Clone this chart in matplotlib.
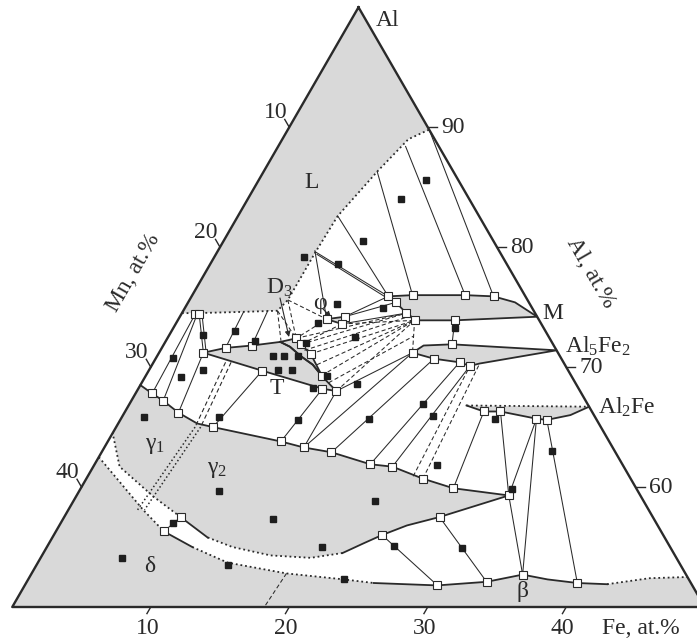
import numpy as np
import matplotlib.pyplot as plt

plt.rcParams['font.family'] = ['Liberation Serif', 'DejaVu Serif']
plt.rcParams['mathtext.fontset'] = 'custom'
plt.rcParams['mathtext.rm'] = 'Liberation Serif'
plt.rcParams['mathtext.it'] = 'Liberation Serif:italic'

# all compositions are (Fe, Al) in at.%, Mn is the balance

# --- single phase fields ---
l_boundary = [(0, 74.5), (1.0, 74.5), (4.2, 74.6), (6.8, 74.7), (7.1, 75.6), (7.1, 77.3),
              (7.1, 79.6), (7.2, 82.6), (8.2, 86.3), (9.1, 89.0), (10.2, 89.8)]
m_field = [(14.2, 75.9), (15.9, 76.0), (19.7, 76.0), (21.8, 75.9), (23.6, 75.4), (25.8, 74.2),
           (20.0, 73.9), (17.1, 73.9), (16.2, 74.5), (15.0, 75.4), (14.2, 75.9)]
al5fe2_field = [(18.3, 71.2), (18.8, 71.8), (20.8, 71.9), (28.6, 71.4), (23.6, 70.3),
                (23.0, 70.1), (22.1, 70.4), (20.1, 70.7), (18.3, 71.2)]
al2fe_top = [(24.4, 66.8), (33.3, 66.7)]
al2fe_bottom = [(33.3, 66.7), (32.3, 66.0), (30.8, 65.6), (30.0, 65.7), (27.1, 66.3),
                (25.9, 66.3), (24.4, 66.8)]
t_field = [(3.2, 71.2), (4.6, 71.6), (6.4, 71.8), (8.3, 72.1), (9.2, 71.7), (10.4, 70.9),
           (11.6, 70.2), (12.8, 69.2), (14.4, 68.0), (13.3, 68.2), (8.2, 69.7), (3.2, 71.2)]
d3_field = [(8.3, 72.1), (9.3, 72.4), (9.9, 71.9), (11.0, 71.1), (12.7, 69.3), (12.8, 69.2),
            (11.6, 70.2), (10.4, 70.9), (9.2, 71.7), (8.3, 72.1)]
phi_field = [(10.7, 74.0), (11.9, 74.2), (12.0, 73.6), (10.7, 74.0)]

gamma_upper = [(0, 68.5), (1.2, 67.8), (2.3, 67.2), (3.9, 66.2), (5.7, 65.3), (7.0, 65.0),
               (12.5, 63.8), (14.4, 63.3), (16.6, 62.9), (19.9, 61.9), (21.6, 61.7),
               (24.3, 60.7), (26.9, 59.9), (31.2, 59.3)]
gamma_low_a = [(31.2, 59.3), (27.1, 57.5), (25.1, 56.8), (23.7, 56.0), (22.7, 55.3), (21.6, 54.5)]
gamma_low_b = [(21.6, 54.5), (19.5, 54.1), (16.5, 54.3), (13.4, 55.0), (11.2, 55.8)]
gamma_low_c = [(11.2, 55.8), (8.4, 57.5)]
gamma_low_d = [(8.4, 57.5), (5.6, 59.2), (1.9, 61.7), (0, 64.5)]

delta_a = [(0, 62.5), (5.4, 58.1), (7.8, 56.3)]
delta_b = [(7.8, 56.3), (10.5, 55.0)]
delta_c = [(10.5, 55.0), (13.7, 53.7), (18.4, 52.8), (22.8, 52.3), (25.1, 52.0)]
delta_d = [(25.1, 52.0), (29.8, 51.8), (33.2, 52.1), (35.5, 52.7), (37.5, 52.3), (39.8, 52.0), (42.0, 51.9)]
delta_e = [(42.0, 51.9), (44.8, 52.4), (47.5, 52.5)]

# gamma1 / gamma2 double line
g12_dashed = [[(5.2, 70.4), (5.7, 65.0)], [(5.6, 70.4), (6.1, 65.0)]]
g12_dotted = [[(5.7, 65.0), (5.0, 58.1)], [(6.1, 65.0), (5.5, 58.1)]]

# --- tie lines ---
tie_solid = [
    ((10.2, 89.8), (21.8, 75.9)), ((9.2, 88.4), (19.7, 76.0)), ((8.2, 86.3), (15.9, 76.0)),
    ((7.2, 82.6), (14.2, 75.9)), ((7.1, 79.6), (14.2, 75.9)), ((7.3, 79.4), (14.3, 75.7)),
    ((7.0, 79.7), (10.7, 74.0)), ((11.9, 74.2), (14.2, 75.9)), ((11.9, 74.2), (15.0, 75.4)),
    ((12.0, 73.6), (16.2, 74.5)), ((14.4, 68.0), (18.3, 71.2)), ((20.0, 73.9), (20.8, 71.9)),
    ((1.0, 74.4), (1.2, 67.8)), ((1.15, 74.4), (2.3, 67.2)), ((1.3, 74.4), (3.2, 71.2)),
    ((1.5, 74.4), (3.4, 71.2)), ((3.2, 71.2), (3.9, 66.2)), ((4.4, 74.6), (4.6, 71.6)),
    ((6.1, 74.7), (6.4, 71.8)), ((8.2, 69.7), (7.0, 65.0)), ((13.3, 68.2), (12.5, 63.8)),
    ((14.4, 68.0), (14.4, 63.3)), ((14.4, 63.3), (18.3, 71.2)), ((16.6, 62.9), (20.1, 70.7)),
    ((19.9, 61.9), (22.1, 70.4)), ((21.6, 61.7), (23.0, 70.1)), ((26.9, 59.9), (25.9, 66.3)),
    ((31.2, 59.3), (27.1, 66.3)), ((31.2, 59.3), (30.0, 65.7)), ((35.5, 52.7), (30.0, 65.7)),
    ((31.2, 59.3), (35.5, 52.7)), ((30.8, 65.6), (39.8, 52.0)), ((23.7, 56.0), (29.8, 51.8)),
    ((27.1, 57.5), (33.2, 52.1)), ((8.4, 57.5), (7.8, 56.3)),
]
tie_dashed = [
    ((7.1, 75.6), (9.3, 72.4)), ((7.1, 75.6), (10.7, 74.0)), ((6.8, 74.7), (9.3, 72.4)),
    ((6.8, 74.7), (8.3, 72.2)), ((10.7, 74.0), (9.3, 72.4)), ((12.0, 73.6), (9.9, 71.9)),
    ((9.3, 72.4), (16.2, 74.5)), ((9.9, 71.9), (16.2, 74.5)), ((10.4, 71.4), (16.7, 74.3)),
    ((11.0, 71.1), (17.1, 73.9)), ((11.9, 70.2), (17.1, 73.9)), ((12.7, 69.3), (17.1, 73.9)),
    ((13.5, 68.7), (17.7, 72.6)), ((14.4, 68.0), (17.1, 73.9)), ((17.1, 73.9), (18.3, 71.2)),
    ((12.0, 73.6), (17.1, 73.9)), ((23.5, 60.9), (23.0, 70.1)), ((24.3, 60.7), (23.6, 70.3)),
    ((18.4, 52.8), (18.2, 50.0)),
]

# --- measured compositions ---
phase_points = [
    (14.2, 75.9), (15.9, 76.0), (19.7, 76.0), (21.8, 75.9), (15.0, 75.4), (16.2, 74.5), (17.1, 73.9),
    (20.0, 73.9), (20.8, 71.9), (18.3, 71.2), (20.1, 70.7), (22.1, 70.4), (23.0, 70.1),
    (10.7, 74.0), (11.9, 74.2), (12.0, 73.6), (9.3, 72.4), (9.9, 71.9), (11.0, 71.1), (12.7, 69.3),
    (13.3, 68.2), (14.4, 68.0), (3.2, 71.2), (4.6, 71.6), (6.4, 71.8), (8.2, 69.7),
    (1.0, 74.4), (1.3, 74.4), (1.2, 67.8), (2.3, 67.2), (3.9, 66.2), (7.0, 65.0), (12.5, 63.8),
    (14.4, 63.3), (16.6, 62.9), (19.9, 61.9), (21.6, 61.7), (24.3, 60.7), (26.9, 59.9),
    (31.2, 59.3), (27.1, 57.5), (23.7, 56.0), (8.4, 57.5), (25.9, 66.3), (27.1, 66.3),
    (30.0, 65.7), (30.8, 65.6), (29.8, 51.8), (33.2, 52.1), (35.5, 52.7), (39.8, 52.0), (7.8, 56.3),
]
alloys = [
    (6.5, 79.2), (12.1, 85.6), (11.1, 84.0), (10.1, 80.5), (9.2, 78.6), (10.8, 75.3), (14.3, 74.9),
    (10.2, 73.7), (10.2, 72.0), (10.2, 70.9), (13.5, 72.5), (13.1, 69.3), (12.6, 68.3), (15.6, 68.6),
    (20.3, 73.3), (10.3, 69.8), (9.3, 69.8), (8.4, 70.9), (9.2, 70.9), (2.4, 72.7), (4.6, 73.0),
    (6.4, 72.2), (1.2, 70.8), (2.6, 69.2), (3.9, 69.8), (1.6, 65.8), (7.0, 65.8), (12.8, 65.6),
    (17.9, 65.7), (21.2, 66.9), (22.4, 65.9), (24.8, 61.8), (27.0, 65.7), (32.5, 63.0),
    (31.2, 59.8), (30.0, 54.9), (25.0, 55.1), (21.8, 58.8), (15.2, 57.3), (19.9, 55.0),
    (10.1, 59.7), (8.1, 57.0), (13.8, 53.5), (5.9, 54.1), (22.8, 52.3),
]

mn_ticks = [10, 20, 30, 40]
al_ticks = [60, 70, 80, 90]
fe_ticks = [10, 20, 30, 40]

GRAY = '#d9d9d9'
INK = '#2a2a2a'
DOT = (0, (1, 1.6))
DASH = (0, (4, 2.5))
H = np.sqrt(3) / 2


def tern(points):
    pts = np.asarray(points, dtype=float)
    return pts[:, 0] + pts[:, 1] / 2, pts[:, 1] * H


def pix(x, y):
    # picture pixel -> data coords, only used to place labels
    return (x + 334) / 13.85, 50 * H + (607 - y) / 13.85


fig = plt.figure(figsize=(6.97, 6.43), dpi=100)
ax = fig.add_axes([0, 0, 1, 1])
ax.set_xlim(334 / 13.85, 1031 / 13.85)
ax.set_ylim(50 * H - 36 / 13.85, 50 * H + 607 / 13.85)
ax.axis('off')


def fill(pts):
    x, y = tern(pts)
    ax.fill(x, y, color=GRAY, lw=0, zorder=1)


def line(pts, ls='-', lw=1.3):
    x, y = tern(pts)
    ax.plot(x, y, color=INK, ls=ls, lw=lw, zorder=2)


fill([(0, 100)] + l_boundary)
fill(m_field)
fill(al5fe2_field)
fill(al2fe_top + al2fe_bottom)
fill(t_field)
fill(d3_field)
fill(phi_field)
fill(gamma_upper + gamma_low_a + gamma_low_b + gamma_low_c + gamma_low_d)
fill([(0, 50)] + delta_a + delta_b + delta_c + delta_d + delta_e + [(50, 50)])

line(l_boundary, DOT)
for seg in [m_field, al5fe2_field, al2fe_bottom, t_field, d3_field, phi_field, gamma_upper,
            gamma_low_a, gamma_low_c, delta_b, delta_d]:
    line(seg, '-', 1.3)
for seg in [al2fe_top, gamma_low_b, gamma_low_d, delta_a, delta_c, delta_e]:
    line(seg, DOT)
for seg in g12_dashed:
    line(seg, DASH, 0.8)
for seg in g12_dotted:
    line(seg, DOT, 1.1)

for a, b in tie_solid:
    line([a, b], '-', 0.75)
for a, b in tie_dashed:
    line([a, b], DASH, 0.75)

x, y = tern(phase_points)
ax.plot(x, y, 's', ms=5.6, mfc='white', mec=INK, mew=0.8, ls='none', zorder=4)
x, y = tern(alloys)
ax.plot(x, y, 's', ms=5.0, mfc='#1e1e1e', mec='#1e1e1e', ls='none', zorder=4)

# frame and ticks
line([(0, 100), (0, 50), (50, 50), (0, 100)], '-', 1.7)
FS = 17
for mn in mn_ticks:
    line([(0, 100 - mn), (-0.65, 100 - mn + 0.65)], '-', 1.0)
    tx, ty = tern([(0, 100 - mn)])
    ax.text(tx[0] - 1.0, ty[0] + 1.05, str(mn), fontsize=FS, ha='center', va='center', color=INK)
for al in al_ticks:
    line([(100 - al, al), (100 - al + 0.65, al)], '-', 1.0)
    tx, ty = tern([(100 - al, al)])
    ax.text(tx[0] + 0.95, ty[0], str(al), fontsize=FS, ha='left', va='center', color=INK)
for fe in fe_ticks:
    line([(fe, 50), (fe, 49.45)], '-', 1.0)
    tx, ty = tern([(fe, 50)])
    ax.text(tx[0] - 0.25, ty[0] - 1.55, str(fe), fontsize=FS, ha='center', va='center', color=INK)

labels = [
    ('Al', 388, 20, 'center'), ('L', 312, 182, 'center'), ('D$_3$', 279, 288, 'center'),
    ('φ', 320, 304, 'center'), ('T', 277, 389, 'center'), ('M', 553, 313, 'center'),
    ('Al$_5$Fe$_2$', 565, 346, 'left'), ('Al$_2$Fe', 598, 407, 'left'),
    ('γ$_1$', 155, 445, 'center'), ('γ$_2$', 217, 469, 'center'), ('δ', 150, 567, 'center'),
    ('β', 523, 592, 'center'), ('Fe, at.%', 602, 628, 'left'),
]
for txt, px, py, ha in labels:
    ax.text(*pix(px, py), txt, fontsize=FS, ha=ha, va='center', color=INK)
ax.text(*pix(133, 273), 'Mn, at.%', fontsize=FS, rotation=60, ha='center', va='center', color=INK)
ax.text(*pix(591, 273), 'Al, at.%', fontsize=FS, rotation=-60, ha='center', va='center', color=INK)

arrow = dict(arrowstyle='-|>', color=INK, lw=0.8, mutation_scale=8, shrinkA=0, shrinkB=0)
ax.annotate('', xy=pix(289, 337), xytext=pix(280, 298), arrowprops=arrow)
ax.annotate('', xy=pix(331, 317), xytext=pix(323, 309), arrowprops=arrow)

fig.savefig('out.png', dpi=100)
